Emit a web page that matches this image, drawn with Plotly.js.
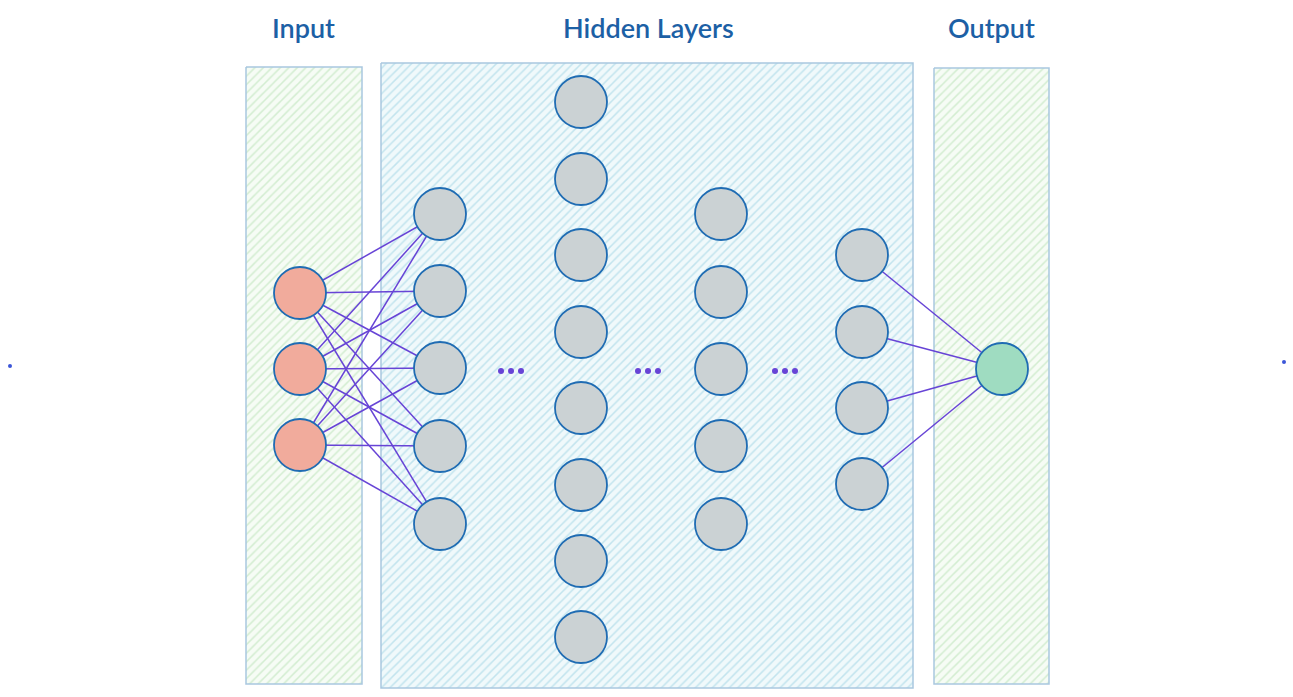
<!DOCTYPE html>
<html>
<head>
<meta charset="utf-8">
<script src="https://cdn.plot.ly/plotly-3.0.1.min.js"></script>
<style>
  html, body { margin: 0; padding: 0; background: #ffffff; }
  #net { width: 1293px; height: 697px; }
</style>
</head>
<body>
<div id="net"></div>
<script>
// Network layout (pixel units, y grows downward)
const layerX = [300, 440, 581, 721, 862, 1002];
const layerNodes = [
  [293, 369, 445],
  [214, 291, 368, 446, 524],
  [102, 179, 255, 332, 408, 485, 561, 637],
  [214, 292, 369, 446, 524],
  [255, 332, 408, 484],
  [369]
];
const layerKind = ['input', 'hidden', 'hidden', 'hidden', 'hidden', 'output'];
const linkedLayers = [[0, 1], [4, 5]];

const ellipsisX = [511, 648, 785];
const ellipsisY = [371, 371, 371];
const ellipsisOffsets = [-10, 0, 10];

const groupTitles = ['Input', 'Hidden Layers', 'Output'];
const groupTitleX = [303, 648, 991];
const groupTitleY = [27, 27, 27];
const boxLeft = [246, 381, 934];
const boxRight = [362, 913, 1049];
const boxTop = [67, 63, 68];
const boxBottom = [684, 688, 684];
const boxKind = ['green', 'cyan', 'green'];

const strayX = [10, 1284];
const strayY = [366, 362];

const PALETTE = {
  boxStroke: '#a9c7df',
  green: { bg: '#f6fcf5', fg: '#d3edd1' },
  cyan: { bg: '#f0f9fb', fg: '#c2e4ee' },
  link: '#6744d6',
  nodeStroke: '#1f6cb3',
  input: '#f1ab9c',
  hidden: '#cbd2d4',
  output: '#9fdcc1',
  title: '#1c60a5',
  stray: '#3b56d8'
};

const traces = [];

// group boxes, hatched
boxLeft.forEach((x0, i) => {
  const x1 = boxRight[i], y0 = boxTop[i], y1 = boxBottom[i];
  const c = PALETTE[boxKind[i]];
  traces.push({
    type: 'scatter', mode: 'lines',
    x: [x0, x1, x1, x0, x0], y: [y0, y0, y1, y1, y0],
    fill: 'toself', fillcolor: c.bg,
    fillpattern: { shape: '/', bgcolor: c.bg, fgcolor: c.fg, size: 6, solidity: 0.25 },
    line: { color: PALETTE.boxStroke, width: 1.5 },
    hoverinfo: 'skip', showlegend: false
  });
});

// fully connected links between selected layers
linkedLayers.forEach(([a, b]) => {
  const xs = [], ys = [];
  layerNodes[a].forEach(ya => {
    layerNodes[b].forEach(yb => {
      xs.push(layerX[a], layerX[b], null);
      ys.push(ya, yb, null);
    });
  });
  traces.push({
    type: 'scatter', mode: 'lines', x: xs, y: ys,
    line: { color: PALETTE.link, width: 1.5 },
    hoverinfo: 'skip', showlegend: false
  });
});

// neurons
layerNodes.forEach((ys, i) => {
  traces.push({
    type: 'scatter', mode: 'markers',
    x: ys.map(() => layerX[i]), y: ys,
    marker: {
      size: 52, color: PALETTE[layerKind[i]],
      line: { color: PALETTE.nodeStroke, width: 1.8 }
    },
    hoverinfo: 'skip', showlegend: false
  });
});

// "..." between hidden layers
const ex = [], ey = [];
ellipsisX.forEach((x, i) => {
  ellipsisOffsets.forEach(o => { ex.push(x + o); ey.push(ellipsisY[i]); });
});
traces.push({
  type: 'scatter', mode: 'markers', x: ex, y: ey,
  marker: { size: 6, color: PALETTE.link },
  hoverinfo: 'skip', showlegend: false
});

// stray points at canvas edges
traces.push({
  type: 'scatter', mode: 'markers', x: strayX, y: strayY,
  marker: { size: 4, color: PALETTE.stray },
  hoverinfo: 'skip', showlegend: false
});

const layout = {
  width: 1293, height: 697,
  margin: { l: 0, r: 0, t: 0, b: 0 },
  paper_bgcolor: '#ffffff', plot_bgcolor: '#ffffff',
  xaxis: { range: [0, 1293], visible: false, fixedrange: true },
  yaxis: { range: [697, 0], visible: false, fixedrange: true },
  showlegend: false,
  annotations: groupTitles.map((t, i) => ({
    text: t, x: groupTitleX[i], y: groupTitleY[i],
    xref: 'x', yref: 'y', showarrow: false,
    font: { family: 'Lato, "Open Sans", sans-serif', size: 27, weight: 600, color: PALETTE.title }
  }))
};

Plotly.newPlot('net', traces, layout, { displayModeBar: false, staticPlot: true });
</script>
</body>
</html>
